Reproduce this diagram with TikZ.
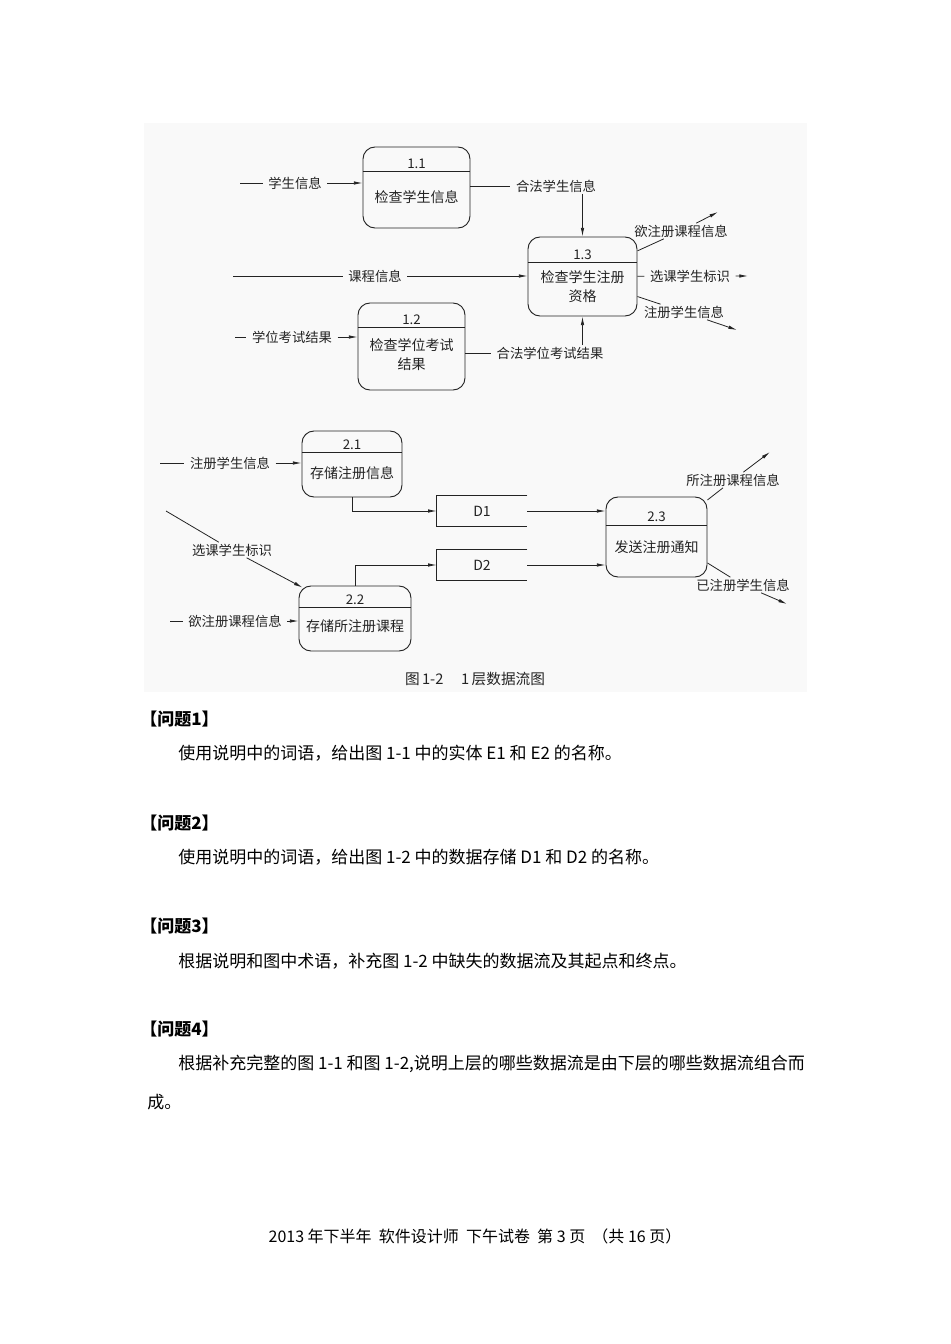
\documentclass[tikz,border=0pt]{standalone}
\usepackage{fontspec}
\setmainfont{Noto Sans CJK SC}
\usepackage{tikz}
\usetikzlibrary{arrows.meta, calc, positioning}
\definecolor{scanink}{RGB}{35, 35, 35}
\definecolor{scanbg}{RGB}{249, 249, 249}

\begin{document}
\begin{tikzpicture}[x=0.75pt, y=-0.75pt,
        proc/.style={rectangle, draw=scanink, rounded corners=9pt, line width=0.7pt, inner sep=0pt},
        store/.style={rectangle, minimum width=67.5pt, minimum height=22.5pt, inner sep=0pt, font=\fontsize{10.5}{12}\selectfont, text=scanink},
        flow/.style={draw=scanink, line width=0.6pt},
        arr/.style={flow, -{Latex[length=6.5pt, width=2.6pt]}},
        lbl/.style={font=\fontsize{10}{12}\selectfont, text=scanink, inner xsep=4pt, inner ysep=1pt},
        num/.style={font=\fontsize{10}{11}\selectfont, text=scanink, inner sep=0pt},
        ptext/.style={font=\fontsize{10.5}{14.5}\selectfont, text=scanink, align=center, inner sep=0pt},
        divider/.style={draw=scanink, line width=1.1pt},
        body/.style={anchor=west, inner sep=0pt, font=\fontsize{12.75}{15}\selectfont},
        qhead/.style={body, font=\fontsize{12.75}{15}\selectfont\bfseries}]
        \useasboundingbox (0,0) rectangle (950,1344);
        \fill[white] (0,0) rectangle (950,1344);
        \fill[scanbg] (144,123) rectangle (807,692);

        \node (p11) [proc, minimum width=80.25pt, minimum height=60.75pt] at (416.5,187.5) {};
        \node (p12) [proc, minimum width=80.25pt, minimum height=65.25pt] at (411.5,346.5) {};
        \node (p13) [proc, minimum width=81.75pt, minimum height=59.25pt] at (582.5,276.5) {};
        \node (p21) [proc, minimum width=75pt, minimum height=49.5pt] at (352,464) {};
        \node (p22) [proc, minimum width=84pt, minimum height=48.75pt] at (355,618.5) {};
        \node (p23) [proc, minimum width=75.75pt, minimum height=60pt] at (656.5,537) {};

        \draw[divider] ($(p11.north west)+(0,25)$) -- ($(p11.north east)+(0,25)$);
        \draw[divider] ($(p12.north west)+(0,25)$) -- ($(p12.north east)+(0,25)$);
        \draw[divider] ($(p13.north west)+(0,26)$) -- ($(p13.north east)+(0,26)$);
        \draw[divider] ($(p21.north west)+(0,22)$) -- ($(p21.north east)+(0,22)$);
        \draw[divider] ($(p22.north west)+(0,22)$) -- ($(p22.north east)+(0,22)$);
        \draw[divider] ($(p23.north west)+(0,29)$) -- ($(p23.north east)+(0,29)$);

        \node (p11n) [num] at ($(p11.north)+(0,17)$) {1.1};
        \node (p12n) [num] at ($(p12.north)+(0,17)$) {1.2};
        \node (p13n) [num] at ($(p13.north)+(0,18)$) {1.3};
        \node (p21n) [num] at ($(p21.north)+(0,14)$) {2.1};
        \node (p22n) [num] at ($(p22.north)+(0,14)$) {2.2};
        \node (p23n) [num] at ($(p23.north)+(0,20)$) {2.3};

        \node (p11t) [ptext] at ($(p11.north)+(0,51)$) {检查学生信息};
        \node (p12t) [ptext] at ($(p12.north)+(0,52)$) {检查学位考试\\结果};
        \node (p13t) [ptext] at ($(p13.north)+(0,50)$) {检查学生注册\\资格};
        \node (p21t) [ptext] at ($(p21.north)+(0,43)$) {存储注册信息};
        \node (p22t) [ptext] at ($(p22.north)+(0,41)$) {存储所注册课程};
        \node (p23t) [ptext] at ($(p23.north)+(0,51)$) {发送注册通知};

        \node (d1) [store] at (482,511) {D1};
        \node (d2) [store] at (482,565) {D2};
        \draw[flow] (d1.north east) -- (d1.north west) -- (d1.south west) -- (d1.south east);
        \draw[flow] (d2.north east) -- (d2.north west) -- (d2.south west) -- (d2.south east);

        \coordinate (c_xs) at (240,183);
        \coordinate (c_kc) at (233,276);
        \coordinate (c_xwks) at (235,337);
        \coordinate (c_yzc) at (718,212);
        \coordinate (c_xkbs) at (748,276);
        \coordinate (c_zcxs) at (737,330);
        \coordinate (c_zcxs2) at (160,463);
        \coordinate (c_xkbs2) at (166,511);
        \coordinate (c_yzc2) at (170,621);
        \coordinate (c_szc) at (770,452);
        \coordinate (c_yzcxs) at (787,604);

        \node (l_xs) [lbl] at (295,183) {学生信息};
        \node (l_hfxs) [lbl] at (556,186) {合法学生信息};
        \node (l_kc) [lbl] at (375,276) {课程信息};
        \node (l_xwks) [lbl] at (292,337) {学位考试结果};
        \node (l_hfxw) [lbl] at (550,353) {合法学位考试结果};
        \node (l_yzc) [lbl] at (681,231) {欲注册课程信息};
        \node (l_xkbs) [lbl] at (690,276) {选课学生标识};
        \node (l_zcxs) [lbl] at (684,312) {注册学生信息};
        \node (l_zcxs2) [lbl] at (230,463) {注册学生信息};
        \node (l_xkbs2) [lbl] at (232,550) {选课学生标识};
        \node (l_yzc2) [lbl] at (235,621) {欲注册课程信息};
        \node (l_szc) [lbl] at (733,480) {所注册课程信息};
        \node (l_yzcxs) [lbl] at (743,585) {已注册学生信息};

        \draw[arr] (c_xs) -- (l_xs) -- (l_xs -| p11.west);
        \draw[flow] (p11.east |- l_hfxs) -- (l_hfxs);
        \draw[arr] (l_hfxs.south -| p13.north) -- (p13.north);
        \draw[arr] (c_kc) -- (l_kc) -- (l_kc -| p13.west);
        \draw[arr] (c_xwks) -- (l_xwks) -- (l_xwks -| p12.west);
        \draw[flow] (p12.east |- l_hfxw) -- (l_hfxw);
        \draw[arr] (l_hfxw.north -| p13.south) -- (p13.south);
        \draw[arr] (p13.25) -- (l_yzc) -- (c_yzc);
        \draw[arr] (p13) -- (l_xkbs) -- (c_xkbs);
        \draw[arr] (p13.-20) -- (l_zcxs) -- (c_zcxs);

        \draw[arr] (c_zcxs2) -- (l_zcxs2) -- (l_zcxs2 -| p21.west);
        \draw[arr] (c_xkbs2) -- (l_xkbs2) -- ($(p22.north west)+(4,2)$);
        \draw[arr] (c_yzc2) -- (l_yzc2) -- (l_yzc2 -| p22.west);
        \draw[arr] (p21.south) |- (d1.west);
        \draw[arr] (p22.north) |- (d2.west);
        \draw[arr] (d1.east) -- (d1.east -| p23.west);
        \draw[arr] (d2.east) -- (d2.east -| p23.west);
        \draw[arr] (p23.36) -- (l_szc) -- (c_szc);
        \draw[arr] (p23.-27) -- (l_yzcxs) -- (c_yzcxs);

        \node (cap) [font=\fontsize{11}{12}\selectfont, text=scanink] at (475,679) {图\,1-2\hspace{1.2em}1\,层数据流图};

        \node (q1) [qhead] at (140,719) {【问题1】};
        \node (q1t) [body] at (178,753) {使用说明中的词语，给出图 1-1 中的实体 E1 和 E2 的名称。};
        \node (q2) [qhead] at (140,823) {【问题2】};
        \node (q2t) [body] at (178,857) {使用说明中的词语，给出图 1-2 中的数据存储 D1 和 D2 的名称。};
        \node (q3) [qhead] at (140,926) {【问题3】};
        \node (q3t) [body] at (178,961) {根据说明和图中术语，补充图 1-2 中缺失的数据流及其起点和终点。};
        \node (q4) [qhead] at (140,1029) {【问题4】};
        \node (q4t) [body] at (178,1064) {根据补充完整的图 1-1 和图 1-2,说明上层的哪些数据流是由下层的哪些数据流组合而};
        \node (q4u) [body] at (147,1102) {成。};
        \node (foot) [font=\fontsize{12}{14}\selectfont] at (475,1236) {2013 年下半年\ \ 软件设计师\ \ 下午试卷\ \ 第 3 页\ \ （共 16 页）};
    \end{tikzpicture}
\end{document}
